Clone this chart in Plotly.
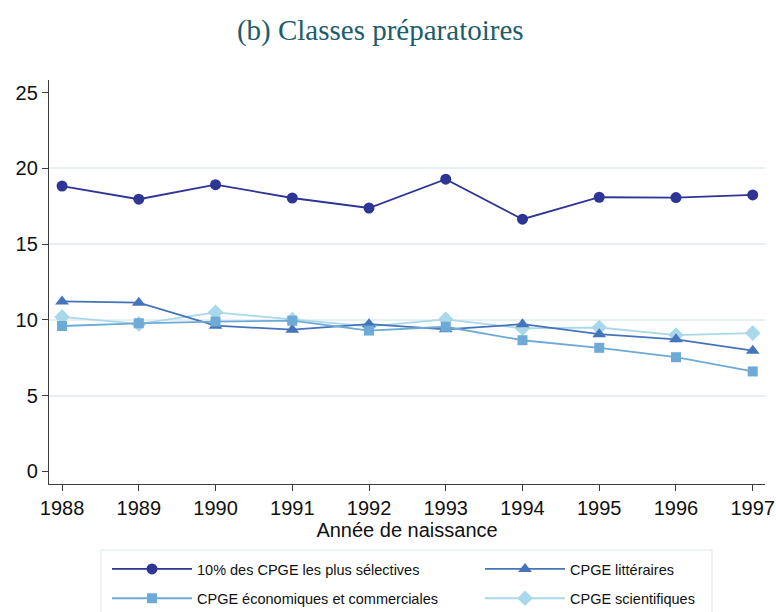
import plotly.graph_objects as go

# Année de naissance
years = [1988, 1989, 1990, 1991, 1992, 1993, 1994, 1995, 1996, 1997]

# Part (%) par type de classe préparatoire
top10_selective = [18.84, 17.97, 18.93, 18.05, 17.39, 19.29, 16.65, 18.10, 18.08, 18.25]
cpge_litteraires = [11.22, 11.14, 9.62, 9.36, 9.72, 9.38, 9.72, 9.06, 8.72, 7.97]
cpge_eco_comm = [9.60, 9.78, 9.89, 9.95, 9.30, 9.55, 8.66, 8.16, 7.54, 6.60]
cpge_scientifiques = [10.20, 9.74, 10.50, 10.02, 9.58, 10.04, 9.45, 9.50, 9.00, 9.13]

y_ticks = [0, 5, 10, 15, 20, 25]
grid_ticks = [5, 10, 15, 20]

series = [
    # (name, values, symbol, size, color, legend, rank) in drawing order
    ("CPGE scientifiques", cpge_scientifiques, "diamond", 12, "#a8d8ea", "legend2", 2),
    ("CPGE littéraires", cpge_litteraires, "triangle-up", 12, "#4474b9", "legend2", 1),
    ("CPGE économiques et commerciales", cpge_eco_comm, "square", 10, "#6eaad6", "legend", 2),
    ("10% des CPGE les plus sélectives", top10_selective, "circle", 11, "#2e3594", "legend", 1),
]

fig = go.Figure()
for name, vals, symbol, size, color, leg, rank in series:
    fig.add_trace(go.Scatter(
        x=years, y=vals, name=name, mode="lines+markers",
        line=dict(color=color, width=1.8),
        marker=dict(symbol=symbol, size=size, color=color),
        legend=leg, legendrank=rank, legendgroup=name,
    ))

y_range = [-0.83, 25.84]
axis_color = "#3c3c3c"
tick_font = dict(family="Liberation Sans, Arial, sans-serif", size=20, color="#111111")
legend_font = dict(family="Liberation Sans, Arial, sans-serif", size=14.5, color="#111111")

legend_common = dict(
    orientation="v", yanchor="top", xanchor="left", y=-0.1707,
    bgcolor="rgba(0,0,0,0)", borderwidth=0, font=legend_font,
    itemwidth=80, traceorder="grouped", tracegroupgap=7.5,
)

fig.update_layout(
    width=776, height=612,
    margin=dict(l=49, r=11, t=80, b=128, autoexpand=False),
    paper_bgcolor="white", plot_bgcolor="white",
    title=dict(
        text="(b) Classes préparatoires",
        x=0.49, xanchor="center", y=0.951, yanchor="middle",
        font=dict(family="Liberation Serif, serif", size=29, color="#1c5d6d"),
    ),
    xaxis=dict(
        range=[1987.83, 1997.16], tickvals=years,
        ticks="outside", ticklen=6, tickwidth=1.3, tickcolor=axis_color,
        showline=True, linecolor=axis_color, linewidth=1.3,
        showgrid=False, zeroline=False, tickfont=tick_font,
        title=dict(text="Année de naissance", font=tick_font, standoff=2),
    ),
    # grid only at the inner ticks
    yaxis=dict(
        range=y_range, tickvals=grid_ticks, showticklabels=False, ticks="",
        showgrid=True, gridcolor="#e8eff3", gridwidth=1.6,
        zeroline=False, showline=False,
    ),
    # labelled axis with ticks and line, no grid
    yaxis2=dict(
        range=y_range, tickvals=y_ticks, overlaying="y", side="left",
        ticks="outside", ticklen=6, tickwidth=1.3, tickcolor=axis_color,
        showline=True, linecolor=axis_color, linewidth=1.3,
        showgrid=False, zeroline=False, tickfont=tick_font,
    ),
    legend=dict(legend_common, x=(107 - 49) / 716),
    legend2=dict(legend_common, x=(480 - 49) / 716),
    shapes=[dict(
        type="rect", xref="paper", yref="paper",
        x0=0.0726, x1=0.926, y0=-0.1634, y1=-0.34,
        line=dict(color="#dde7eb", width=1), fillcolor="rgba(0,0,0,0)", layer="below",
    )],
)

# an invisible trace keeps the labelled axis drawn
fig.add_trace(go.Scatter(x=[years[0]], y=[y_ticks[0]], yaxis="y2", mode="markers",
                         marker=dict(opacity=0), showlegend=False, hoverinfo="skip"))

fig.write_html("out.html")
